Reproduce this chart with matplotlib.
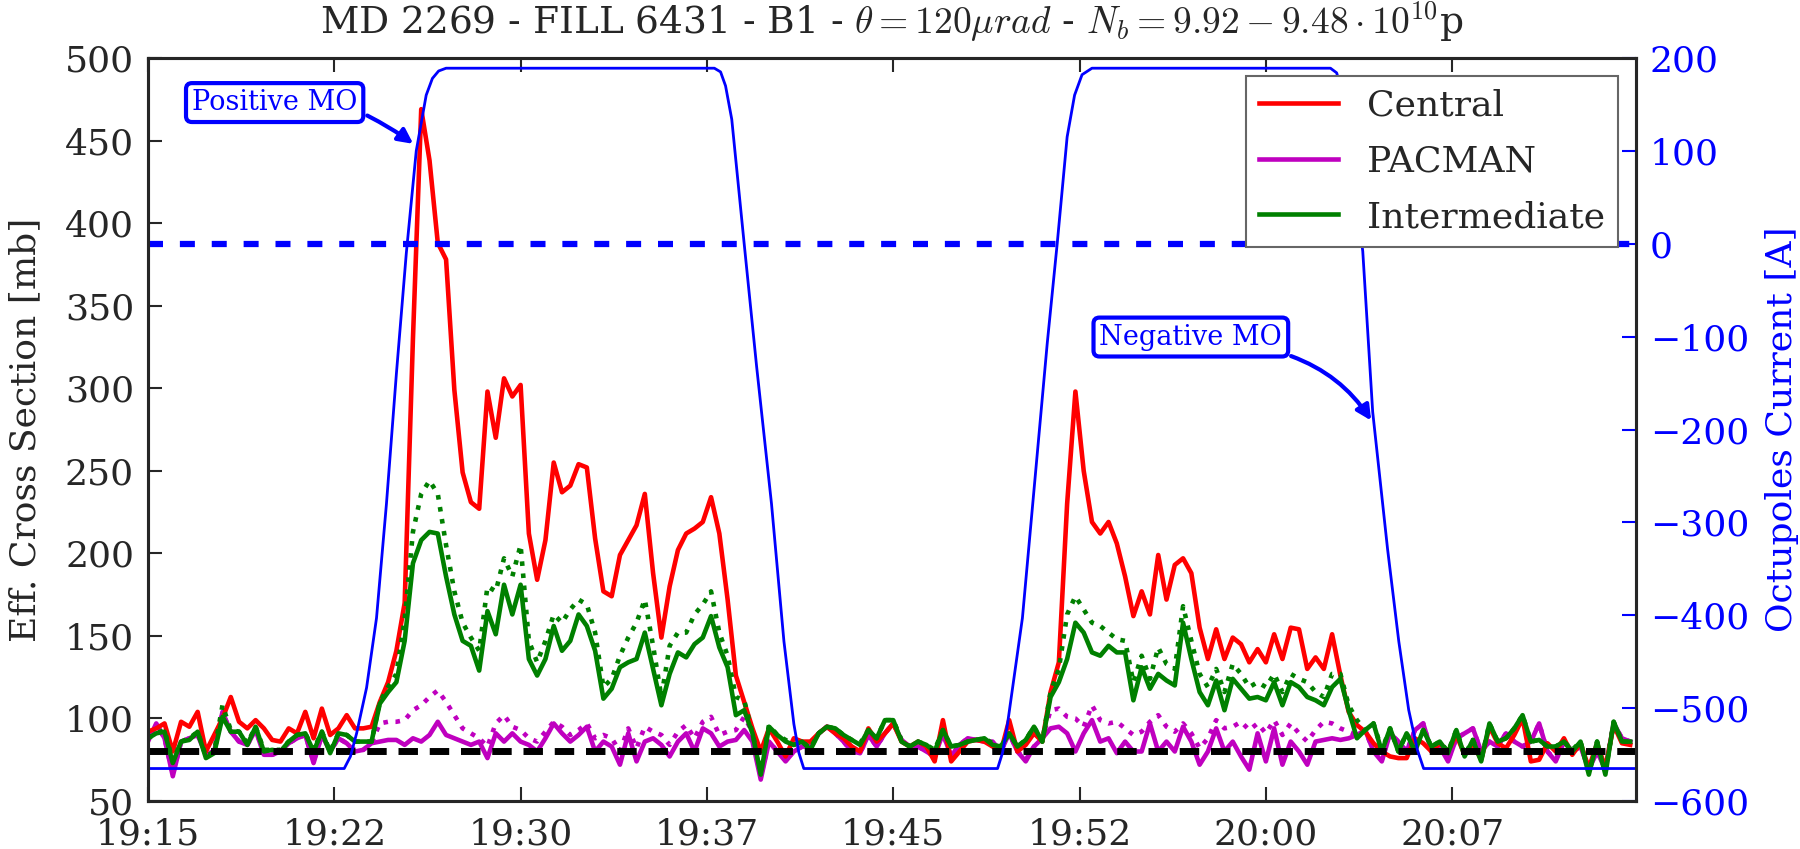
import numpy as np
import matplotlib
matplotlib.use("Agg")
import matplotlib.pyplot as plt
from matplotlib.lines import Line2D

plt.rcParams['font.family'] = ['DejaVu Serif']
plt.rcParams['mathtext.fontset'] = 'cm'

# sampling: one point every 20 s, minutes after 19:15
SAMPLE_MIN = 1.0 / 3.0

central = [92, 94, 97, 80, 98, 95, 104, 80, 90, 100,
           113, 98, 94, 99, 94, 87, 86, 94, 91, 104,
           88, 106, 90, 94, 102, 94, 94, 95, 110, 122,
           141, 170, 330, 469, 438, 388, 378, 299, 249, 231,
           227, 298, 270, 306, 295, 302, 212, 184, 208, 255,
           237, 241, 254, 252, 209, 177, 174, 199, 208, 217,
           236, 188, 149, 180, 202, 212, 215, 219, 234, 212,
           172, 126, 110, 94, 80, 94, 86, 77, 88, 86,
           86, 91, 95, 91, 88, 83, 80, 94, 86, 91,
           97, 86, 83, 86, 83, 74, 99, 74, 80, 86,
           87, 86, 83, 80, 99, 80, 84, 91, 86, 116,
           134, 230, 298, 250, 219, 212, 219, 206, 186, 162,
           177, 163, 199, 172, 193, 197, 188, 155, 136, 154,
           136, 149, 145, 134, 142, 134, 151, 136, 155, 154,
           130, 137, 130, 151, 126, 104, 96, 92, 85, 80,
           77, 76, 76, 88, 85, 80, 85, 80, 90, 78,
           85, 75, 95, 85, 82, 90, 100, 74, 75, 85,
           80, 88, 78, 85, 70, 85, 70, 96, 85, 84]

intermediate = [88, 91, 92, 73, 86, 87, 92, 76, 79, 101,
                92, 92, 84, 95, 80, 81, 80, 86, 90, 91,
                80, 92, 79, 91, 90, 86, 86, 86, 109, 116,
                122, 147, 194, 208, 213, 212, 186, 163, 147, 144,
                129, 165, 151, 181, 163, 181, 136, 126, 136, 156,
                141, 147, 163, 156, 141, 112, 118, 131, 134, 136,
                152, 130, 108, 127, 140, 137, 145, 149, 162, 143,
                131, 102, 105, 91, 66, 95, 90, 86, 84, 86,
                81, 91, 95, 94, 90, 87, 84, 93, 88, 99,
                99, 86, 83, 86, 84, 80, 93, 83, 84, 86,
                87, 88, 84, 83, 91, 83, 87, 95, 86, 113,
                122, 136, 158, 152, 140, 138, 144, 140, 140, 111,
                131, 118, 127, 123, 120, 158, 136, 116, 108, 123,
                105, 124, 118, 112, 113, 111, 122, 108, 122, 119,
                113, 111, 108, 119, 124, 105, 88, 93, 97, 80,
                94, 80, 91, 80, 93, 83, 86, 79, 93, 77,
                87, 74, 97, 86, 88, 94, 102, 86, 87, 83,
                83, 86, 80, 86, 66, 86, 66, 98, 86, 86]

intermediate_dot = [88, 91, 93, 74, 86, 88, 92, 77, 80, 108,
                    93, 92, 85, 95, 81, 81, 81, 86, 90, 91,
                    81, 92, 80, 91, 90, 86, 86, 86, 110, 119,
                    127, 160, 213, 236, 244, 236, 205, 177, 158, 149,
                    141, 180, 177, 197, 186, 205, 147, 134, 147, 163,
                    158, 166, 172, 169, 152, 119, 124, 138, 149, 158,
                    172, 144, 113, 144, 152, 152, 163, 169, 177, 152,
                    138, 113, 111, 91, 69, 96, 90, 87, 84, 86,
                    82, 91, 95, 94, 90, 87, 85, 93, 88, 99,
                    99, 87, 83, 86, 84, 81, 93, 83, 84, 86,
                    87, 88, 85, 83, 91, 83, 87, 95, 86, 116,
                    130, 163, 174, 166, 158, 156, 152, 148, 147, 122,
                    138, 124, 143, 133, 130, 168, 147, 127, 119, 130,
                    116, 133, 127, 119, 122, 119, 127, 116, 127, 124,
                    122, 116, 113, 127, 127, 108, 99, 93, 97, 81,
                    94, 80, 91, 81, 93, 83, 86, 80, 93, 78,
                    87, 75, 97, 86, 88, 94, 102, 86, 87, 83,
                    83, 86, 81, 86, 67, 86, 67, 98, 86, 86]

pacman = [86, 97, 88, 65, 86, 88, 90, 78, 80, 104,
          92, 86, 84, 93, 78, 78, 80, 85, 88, 90,
          73, 90, 80, 88, 85, 80, 81, 85, 86, 87,
          87, 84, 88, 86, 90, 98, 90, 88, 86, 84,
          86, 76, 91, 86, 91, 86, 84, 80, 88, 97,
          91, 86, 90, 95, 80, 86, 83, 72, 91, 74,
          86, 88, 84, 77, 86, 91, 80, 94, 91, 83,
          86, 87, 93, 86, 63, 86, 80, 74, 80, 83,
          83, 91, 95, 91, 86, 80, 79, 90, 83, 91,
          97, 87, 83, 83, 80, 77, 91, 77, 84, 88,
          87, 86, 86, 80, 91, 80, 74, 83, 88, 94,
          95, 91, 80, 91, 99, 86, 88, 79, 86, 80,
          80, 97, 80, 86, 80, 95, 86, 72, 80, 94,
          80, 86, 77, 69, 91, 74, 94, 72, 86, 80,
          72, 86, 87, 88, 87, 88, 90, 93, 80, 74,
          91, 86, 80, 93, 97, 80, 83, 74, 88, 91,
          94, 80, 86, 83, 91, 86, 83, 86, 97, 80,
          74, 86, 80, 83, 69, 80, 69, 97, 88, 86]

pacman_dot = [87, 96, 88, 66, 86, 88, 90, 79, 80, 103,
              92, 86, 84, 93, 79, 78, 80, 85, 88, 90,
              74, 90, 80, 88, 85, 81, 81, 85, 97, 98,
              98, 99, 105, 108, 113, 117, 110, 102, 94, 91,
              88, 83, 97, 102, 95, 93, 88, 86, 92, 98,
              95, 90, 93, 97, 88, 90, 88, 80, 94, 82,
              95, 92, 90, 84, 92, 96, 88, 98, 101, 90,
              92, 93, 101, 92, 65, 86, 80, 75, 80, 83,
              83, 91, 95, 91, 86, 80, 79, 90, 83, 91,
              97, 87, 83, 83, 80, 77, 91, 77, 84, 88,
              87, 86, 86, 80, 91, 80, 75, 83, 88, 105,
              106, 101, 100, 95, 108, 99, 97, 98, 94, 90,
              92, 98, 102, 95, 92, 97, 91, 82, 88, 99,
              94, 95, 98, 93, 97, 91, 99, 90, 97, 91,
              86, 93, 98, 97, 94, 92, 90, 93, 80, 75,
              91, 86, 80, 93, 97, 80, 83, 75, 88, 91,
              94, 80, 86, 83, 91, 86, 83, 86, 97, 80,
              75, 86, 80, 83, 70, 80, 70, 97, 88, 86]

# octupole current [A], (minute, value)
oct_t = [0, 7.9, 8.15, 8.4, 8.8, 9.2, 9.6, 10.0, 10.4, 10.8, 11.2, 11.45, 11.7, 12.0,
         22.8, 23.05, 23.25, 23.5, 24.0, 24.5, 25.1, 25.6, 26.0, 26.2, 26.4,
         34.2, 34.4, 34.6, 35.2, 35.7, 36.2, 36.6, 37.0, 37.3, 37.6, 38.0,
         47.6, 47.85, 48.1, 48.4, 48.9, 49.3, 49.9, 50.35, 50.75, 51.1, 51.35, 60]
oct_a = [-565, -565, -552, -527, -478, -403, -280, -140, -10, 100, 160, 178, 186, 189,
         189, 185, 170, 134, 0, -132, -280, -428, -517, -548, -565,
         -565, -548, -517, -403, -255, -107, 0, 115, 160, 182, 189,
         189, 184, 160, 100, -8, -181, -329, -428, -502, -545, -565, -565]

baseline_xs = 80
tick_min = [0, 7.5, 15, 22.5, 30, 37.5, 45, 52.5]
tick_lbl = ['19:15', '19:22', '19:30', '19:37', '19:45', '19:52', '20:00', '20:07']

t = np.arange(len(central)) * SAMPLE_MIN

fig = plt.figure(figsize=(18, 8.49), dpi=100)
ax = fig.add_axes([0.0822, 0.0565, 0.8267, 0.8752])
ax2 = ax.twinx()

lw = 3.3
ax.plot(t, pacman, color='m', lw=lw)
ax.plot(t, pacman_dot, color='m', lw=lw, ls=':')
ax.plot(t, central, color='r', lw=lw)
ax.plot(t, intermediate, color='g', lw=lw)
ax.plot(t, intermediate_dot, color='g', lw=lw, ls=':')
ax.axhline(baseline_xs, color='k', lw=5, dashes=(2.8, 1.7))

ax2.plot(oct_t, oct_a, color='b', lw=2)
ax2.axhline(0, color='b', lw=4.5, dashes=(2.4, 2.7))

ax.set_xlim(0, 59.9)
ax.set_ylim(50, 500)
ax2.set_ylim(-600, 200)
ax.set_yticks(np.arange(50, 501, 50))
ax2.set_yticks(np.arange(-600, 201, 100))
ax.set_xticks(tick_min)
ax.set_xticklabels(tick_lbl)

fs = 26
txt_c = '0.15'
ax.tick_params(axis='both', direction='in', length=10, width=1.5, labelsize=fs,
               colors=txt_c, top=True, right=False)
ax.tick_params(axis='y', pad=10)
ax.tick_params(axis='x', pad=12)
ax2.tick_params(axis='y', direction='in', length=10, width=1.5, labelsize=fs,
                colors='b', pad=10)
for a in (ax, ax2):
    for s in a.spines.values():
        s.set_linewidth(2.2)
        s.set_color('0.15')

ax.set_ylabel('Eff. Cross Section [mb]', fontsize=fs, color=txt_c, labelpad=16)
ax2.set_ylabel('Octupoles Current [A]', fontsize=fs, color='b', labelpad=11)
ax.set_title(r'MD 2269 - FILL 6431 - B1 - $\theta=120\mu rad$ - '
             r'$N_b=9.92-9.48\cdot10^{10}$p', fontsize=27, color=txt_c, pad=17)

box = dict(boxstyle='round,pad=0.22', fc='w', ec='b', lw=3)
ax.annotate('Positive MO', xy=(10.77, 447), xytext=(5.1, 473), fontsize=19.5,
            color='b', ha='center', va='center', bbox=box,
            arrowprops=dict(arrowstyle='-|>', color='b', lw=3, mutation_scale=22,
                            relpos=(1.0, 0.2), connectionstyle='arc3,rad=-0.05'))
ax.annotate('Negative MO', xy=(49.3, 279), xytext=(41.98, 331), fontsize=19.5,
            color='b', ha='center', va='center', bbox=box,
            arrowprops=dict(arrowstyle='-|>', color='b', lw=3, mutation_scale=22,
                            relpos=(0.95, 0.0), connectionstyle='arc3,rad=-0.2'))

handles = [Line2D([], [], color='r', lw=lw), Line2D([], [], color='m', lw=lw),
           Line2D([], [], color='g', lw=lw)]
leg = ax2.legend(handles, ['Central', 'PACMAN', 'Intermediate'], loc='upper right',
                 fontsize=26, fancybox=False, framealpha=1, edgecolor='0.4',
                 borderaxespad=0.5, handlelength=2.2, handletextpad=0.8,
                 labelspacing=0.6, borderpad=0.35)
leg.get_frame().set_linewidth(1.5)
for tx in leg.get_texts():
    tx.set_color(txt_c)

fig.savefig('out.png', dpi=100)
